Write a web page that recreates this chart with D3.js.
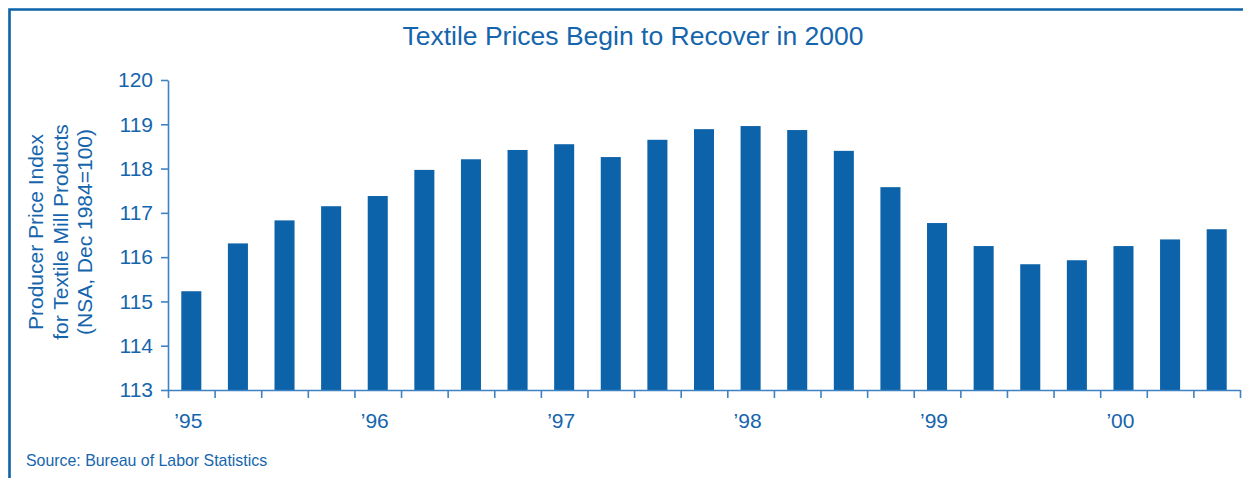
<!DOCTYPE html>
<html lang="en">

<head>
  <meta charset="UTF-8">
  <title>Textile Prices Begin to Recover in 2000</title>
  <style>
    body { margin: 0; background: #fff; }
    text { font-family: "Liberation Sans", Arial, sans-serif; fill: #1565ad; }
  </style>
</head>

<body>
  <script src="https://cdnjs.cloudflare.com/ajax/libs/d3/7.8.5/d3.min.js"></script>
  <script>
    // quarterly PPI, 1995 Q1 .. 2000 Q3
    let quarters = ['95Q1', '95Q2', '95Q3', '95Q4', '96Q1', '96Q2', '96Q3', '96Q4',
      '97Q1', '97Q2', '97Q3', '97Q4', '98Q1', '98Q2', '98Q3', '98Q4',
      '99Q1', '99Q2', '99Q3', '99Q4', '00Q1', '00Q2', '00Q3']
    let values = [115.23, 116.31, 116.83, 117.15, 117.38, 117.97, 118.21, 118.42,
      118.55, 118.26, 118.65, 118.89, 118.96, 118.87, 118.40, 117.58,
      116.77, 116.25, 115.84, 115.93, 116.25, 116.40, 116.63]
    let yearTicks = ['95Q1', '96Q1', '97Q1', '98Q1', '99Q1', '00Q1']
    let yearLabels = ['’95', '’96', '’97', '’98', '’99', '’00']
    let yTicks = [113, 114, 115, 116, 117, 118, 119, 120]

    let width = 1243
    let height = 478
    let barColor = '#0c63a9'
    let axisColor = '#3f82c2'

    let svg = d3.select('body')
      .append('svg')
      .attr('width', width)
      .attr('height', height)

    // frame (only top and left edges show)
    svg.append('path')
      .attr('d', `M9.5,${height} V9.5 H${width}`)
      .attr('fill', 'none')
      .attr('stroke', barColor)
      .attr('stroke-width', 2.6)

    let plot = { left: 168, right: 1240, top: 80, bottom: 390 }

    let xScale = d3.scaleBand()
      .domain(quarters)
      .range([plot.left, plot.right])
      .paddingInner(0.57)
      .paddingOuter(0.285)

    let yScale = d3.scaleLinear()
      .domain([113, 120])
      .range([plot.bottom, plot.top])

    // bars
    svg.selectAll('.bar')
      .data(values)
      .enter()
      .append('rect')
      .attr('class', 'bar')
      .attr('x', (d, i) => xScale(quarters[i]))
      .attr('y', d => yScale(d))
      .attr('width', xScale.bandwidth())
      .attr('height', d => yScale(113) - yScale(d))
      .attr('fill', barColor)

    // y axis
    let yAxis = d3.axisLeft(yScale)
      .tickValues(yTicks)
      .tickSize(7)
      .tickPadding(8)
      .tickSizeOuter(0)
      .tickFormat(d3.format('d'))
    let gy = svg.append('g')
      .attr('transform', `translate(${plot.left},0)`)
      .call(yAxis)
    gy.select('.domain').attr('stroke', axisColor).attr('stroke-width', 1.6)
    gy.selectAll('.tick line').attr('stroke', axisColor).attr('stroke-width', 1.6)
    gy.selectAll('.tick text')
      .attr('font-size', 21)
      .attr('fill', '#1565ad')
      .style('font-family', '"Liberation Sans", Arial, sans-serif')

    // x axis: ticks on quarter boundaries
    let xAxisScale = d3.scaleLinear()
      .domain([0, quarters.length])
      .range([plot.left, plot.right])
    let xAxis = d3.axisBottom(xAxisScale)
      .tickValues(d3.range(quarters.length + 1))
      .tickSize(8)
      .tickSizeOuter(0)
      .tickFormat('')
    let gx = svg.append('g')
      .attr('transform', `translate(0,${plot.bottom})`)
      .call(xAxis)
    gx.select('.domain').attr('stroke', axisColor).attr('stroke-width', 1.6)
    gx.selectAll('.tick line').attr('stroke', axisColor).attr('stroke-width', 1.6)

    // year labels
    svg.selectAll('.year')
      .data(yearTicks)
      .enter()
      .append('text')
      .attr('class', 'year')
      .attr('x', (d) => xScale(d) + xScale.bandwidth() / 2 - 3)
      .attr('y', 428)
      .attr('text-anchor', 'middle')
      .attr('font-size', 21)
      .text((d, i) => yearLabels[i])

    // title
    svg.append('text')
      .attr('x', 633)
      .attr('y', 45)
      .attr('text-anchor', 'middle')
      .attr('font-size', 26.5)
      .text('Textile Prices Begin to Recover in 2000')

    // y axis title
    let yTitle = ['Producer Price Index', 'for Textile Mill Products', '(NSA, Dec 1984=100)']
    svg.append('g')
      .attr('transform', 'translate(43,232) rotate(-90)')
      .selectAll('text')
      .data(yTitle)
      .enter()
      .append('text')
      .attr('x', 0)
      .attr('y', (d, i) => i * 24.5)
      .attr('text-anchor', 'middle')
      .attr('font-size', 21)
      .text(d => d)

    // source
    svg.append('text')
      .attr('x', 26)
      .attr('y', 466)
      .attr('font-size', 15.9)
      .text('Source: Bureau of Labor Statistics')
  </script>
</body>

</html>
